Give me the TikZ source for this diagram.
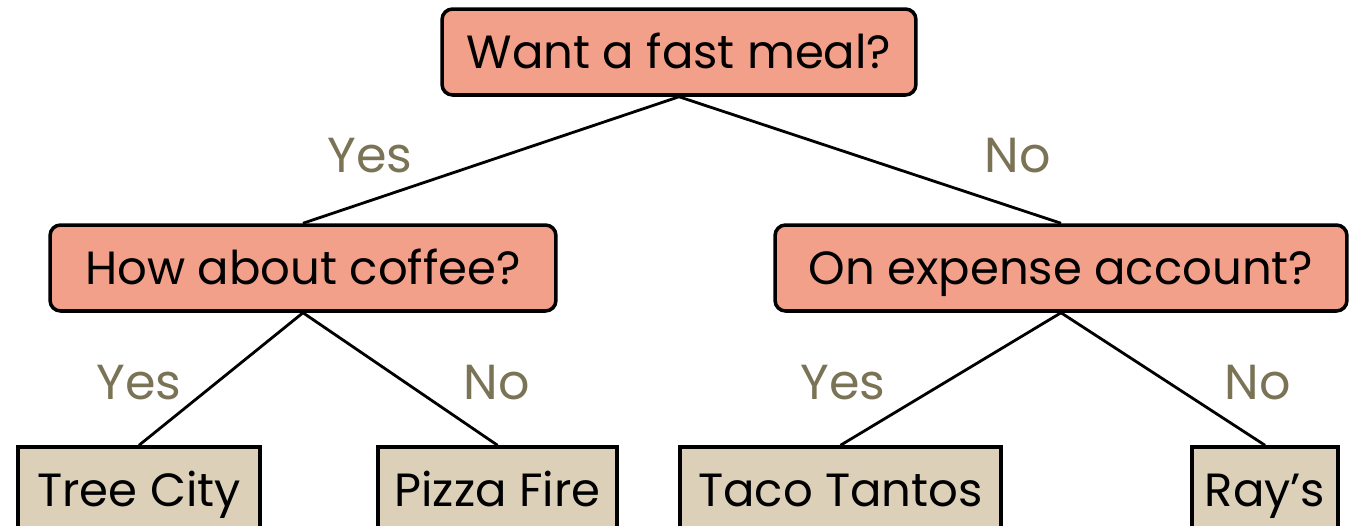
\documentclass[tikz,border=0pt]{standalone}
\usepackage{fontspec}
\setmainfont{Poppins}
\definecolor{salmon}{RGB}{242,160,137}
\definecolor{tan}{RGB}{220,208,185}
\definecolor{olive}{RGB}{122,115,86}
\tikzset{
  question/.style={draw,line width=2pt,rounded corners=6pt,fill=salmon,
    minimum height=1.72cm,inner sep=0pt,text height=18.5pt,text depth=0pt,
    font=\fontsize{26.5}{32}\selectfont},
  answer/.style={draw,line width=2pt,fill=tan,
    minimum height=1.72cm,inner sep=0pt,text height=18.5pt,text depth=0pt,
    font=\fontsize{26.5}{32}\selectfont},
  choice/.style={text=olive,inner sep=0pt,text height=19.6pt,text depth=0pt,
    font=\fontsize{28}{34}\selectfont},
  branch/.style={line width=1.6pt}
}
\begin{document}
\begin{tikzpicture}[x=0.02cm,y=-0.02cm]
\clip (0,0) rectangle (1363,525);
\useasboundingbox (0,0) rectangle (1363,525);

\node[question,minimum width=9.48cm]  (fast)    at (679,52)  {Want a fast meal?};
\node[question,minimum width=10.12cm] (coffee)  at (303,268) {How about coffee?};
\node[question,minimum width=11.44cm] (expense) at (1061,268) {On expense account?};

\node[answer,minimum width=4.84cm] (tree)  at (139,490)   {Tree City};
\node[answer,minimum width=4.78cm] (pizza) at (497.5,490) {Pizza Fire};
\node[answer,minimum width=6.42cm] (taco)  at (840.5,490) {Taco Tantos};
\node[answer,minimum width=2.92cm] (rays)  at (1265,490)  {Ray’s};

\draw[branch] (fast.south) -- (coffee.north);
\draw[branch] (fast.south) -- (expense.north);
\draw[branch] (coffee.south) -- (tree.north);
\draw[branch] (coffee.south) -- (pizza.north);
\draw[branch] (expense.south) -- (taco.north);
\draw[branch] (expense.south) -- (rays.north);

\node[choice] (yes1) at (370,155)  {Yes};
\node[choice] (no1)  at (1018,155) {No};
\node[choice] (yes2) at (139,382)  {Yes};
\node[choice] (no2)  at (497,382)  {No};
\node[choice] (yes3) at (843,382)  {Yes};
\node[choice] (no3)  at (1258,382) {No};
\end{tikzpicture}
\end{document}
